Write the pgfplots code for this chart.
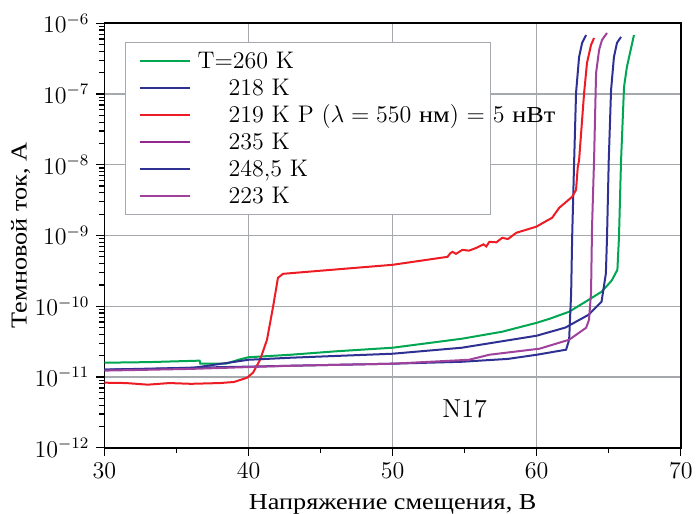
\documentclass[border=0pt]{standalone}
\usepackage{fontspec}
\newfontfamily\cyr{Liberation Serif}[Scale=0.95, FakeStretch=1.15]
\usepackage{pgfplots}
\pgfplotsset{compat=1.18}

\definecolor{cgreen}{HTML}{00A651}
\definecolor{cblue}{HTML}{2E3192}
\definecolor{cred}{HTML}{ED1C24}
\definecolor{cpurple}{HTML}{92278F}
\definecolor{cpurpleb}{HTML}{A0429C}
\definecolor{gridc}{RGB}{165,168,172}
\newcommand\fs{\fontsize{12}{14.4}\selectfont}

\begin{document}
\begin{tikzpicture}
\begin{axis}[
  width=288.15pt, height=212.25pt, scale only axis,
  xmin=30, xmax=70, ymin=1e-12, ymax=1e-6, ymode=log,
  xtick={30,40,...,70}, minor xtick={35,45,55,65},
  tickpos=left, tick align=outside,
  major tick length=4pt, minor tick length=2.5pt,
  every tick/.style={black, line width=0.6pt},
  axis line style={line width=0.8pt},
  grid=major, grid style={gridc, line width=0.6pt},
  tick label style={font=\fs},
  xlabel={{\cyr Напряжение смещения, В}},
  ylabel={{\cyr Темновой ток, А}},
  xlabel style={font=\fs, at={(rel axis cs:0.5,0)}, anchor=base, yshift=-31pt},
  ylabel style={font=\fs, at={(rel axis cs:0,0.5)}, anchor=center, yshift=42pt},
  legend style={at={(rel axis cs:0,1)}, anchor=north west, xshift=10.25pt, yshift=-9.5pt,
    draw=gridc, line width=0.6pt, fill=white, font=\fs,
    inner xsep=6.5pt, inner ysep=2.5pt, row sep=0pt, column sep=3.5pt,
    nodes={inner sep=0pt, text height=10.5pt, text depth=3pt}},
  legend cell align=left,
  legend image code/.code={\draw[#1] (0pt,0pt) -- (25pt,0pt);},
]

% T = 260 K
\addplot[draw=cgreen, line width=1pt] coordinates {
(30,1.59e-11) (33,1.62e-11) (36.6,1.70e-11) (36.65,1.54e-11) (38.5,1.55e-11)
(39.3,1.75e-11) (40,1.90e-11) (42.9,2.06e-11) (46,2.30e-11) (50,2.59e-11)
(54.8,3.47e-11) (57.6,4.36e-11) (60,5.83e-11) (60.9,6.65e-11) (62.25,8.35e-11)
(63.6,1.23e-10) (64.5,1.60e-10) (65.2,2.30e-10) (65.6,3.27e-10) (65.71,9.57e-10)
(65.85,1.10e-8) (66.06,1.26e-7) (66.26,2.41e-7) (66.75,6.82e-7)};
\addlegendentry{\makebox[140pt][l]{T=260 K}}

% 218 K
\addplot[draw=cblue, line width=1pt] coordinates {
(30,1.27e-11) (36,1.35e-11) (40,1.40e-11) (42.9,1.44e-11) (50,1.54e-11)
(54.8,1.64e-11) (58,1.80e-11) (60,2.06e-11) (62.04,2.43e-11) (62.25,3.36e-11)
(62.39,1.55e-10) (62.46,9.57e-10) (62.6,1.17e-8) (62.73,1.04e-7) (62.94,3.33e-7)
(63.15,5.26e-7) (63.43,6.82e-7)};
\addlegendentry{\makebox[140pt][l]{\hspace{15.5pt}218 K}}

% 219 K, illuminated
\addplot[draw=cred, line width=1pt] coordinates {
(30,8.30e-12) (31.5,8.20e-12) (33,7.78e-12) (34.5,8.20e-12) (36,8.00e-12)
(38,8.20e-12) (39,8.50e-12) (39.9,9.77e-12) (40.31,1.15e-11) (40.8,1.75e-11)
(41.28,3.36e-11) (41.7,9.82e-11) (42.04,2.52e-10) (42.39,2.87e-10) (46,3.30e-10)
(50,3.85e-10) (53.81,4.99e-10) (54.0,5.60e-10) (54.15,5.87e-10) (54.4,5.50e-10)
(54.84,6.26e-10) (55.3,6.10e-10) (55.81,6.68e-10) (56.3,7.50e-10) (56.5,7.00e-10)
(56.71,8.13e-10) (57.2,8.00e-10) (57.61,9.27e-10) (58.0,8.90e-10) (58.58,1.09e-9)
(59.97,1.33e-9) (61.07,1.78e-9) (61.56,2.46e-9) (62.46,3.52e-9) (62.73,4.42e-9)
(62.85,9.33e-9) (62.94,1.15e-8) (63.29,1.04e-7) (63.49,2.75e-7) (63.77,4.93e-7)
(63.98,6.19e-7)};
\addlegendentry{\makebox[140pt][l]{\hspace{15.5pt}219 K P ($\lambda = 550$ {\cyr нм}) $=$ 5 {\cyr нВт}}}

% 235 K
\addlegendimage{draw=cpurple, line width=1pt}
\addlegendentry{\makebox[140pt][l]{\hspace{15.5pt}235 K}}

% 248,5 K
\addplot[draw=cblue, line width=1pt] coordinates {
(30,1.27e-11) (33,1.29e-11) (36.2,1.35e-11) (40,1.75e-11) (42.9,1.87e-11)
(50,2.13e-11) (54.8,2.59e-11) (60,3.83e-11) (62,5.00e-11) (63.6,7.57e-11)
(64.5,1.16e-10) (64.8,2.90e-10) (64.88,9.57e-10) (65.0,1.17e-8) (65.16,1.14e-7)
(65.36,3.33e-7) (65.57,5.26e-7) (65.85,6.40e-7)};
\addlegendentry{\makebox[140pt][l]{\hspace{15.5pt}248,5 K}}

% 223 K
\addplot[draw=cpurpleb, line width=1pt] coordinates {
(30,1.23e-11) (36,1.30e-11) (40,1.38e-11) (42.9,1.44e-11) (50,1.54e-11)
(55.3,1.75e-11) (56.7,2.06e-11) (60.2,2.51e-11) (62.25,3.36e-11) (63.43,4.96e-11)
(63.63,6.44e-11) (63.77,1.55e-10) (63.84,1.33e-9) (63.98,1.17e-8) (64.12,1.98e-7)
(64.33,4.19e-7) (64.53,5.80e-7) (64.88,7.28e-7)};
\addlegendentry{\makebox[140pt][l]{\hspace{15.5pt}223 K}}

\node[font=\fontsize{13}{15}\selectfont] at (axis cs:55,3.5e-12) {N17};

\coordinate (ll) at (rel axis cs:0,0);
\coordinate (ur) at (rel axis cs:1,1);
\end{axis}
\pgfresetboundingbox
\path ([shift={(-52.25pt,-33.1pt)}]ll) rectangle ([shift={(7.6pt,11.6pt)}]ur);
\end{tikzpicture}
\end{document}
